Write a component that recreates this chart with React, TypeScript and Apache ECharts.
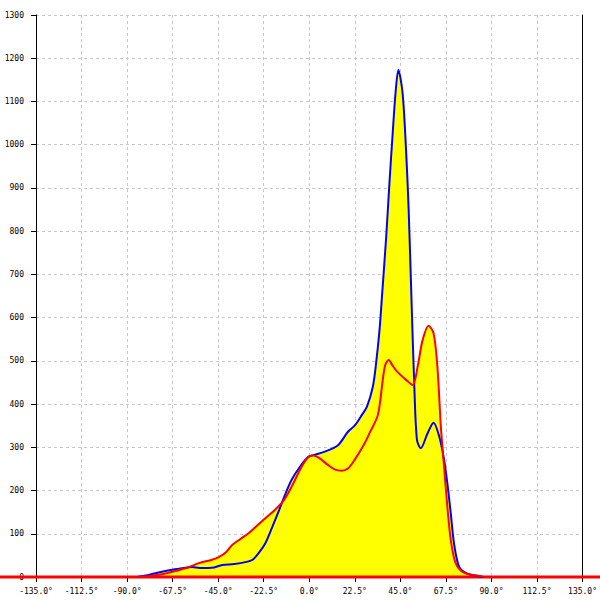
import React, { useEffect, useRef } from "react";
import * as echarts from "echarts";

const xTicks = [-135, -112.5, -90, -67.5, -45, -22.5, 0, 22.5, 45, 67.5, 90, 112.5, 135];

const blueAngles = [-85, -80, -75, -70, -67.5, -62, -58, -54, -50, -47, -43, -37, -31, -28, -25, -21.7, -18.5, -15.2, -12, -8.7, -4.6, -0.5, 2, 7.7, 14.2, 19.1, 22.4, 26, 28.5, 31.4, 33, 34.7, 36, 38, 39.6, 41.2, 42.6, 44, 46.1, 47.8, 49.1, 50.5, 51.9, 53.2, 55.1, 58.4, 61.4, 64.2, 66.6, 68.2, 69.9, 71.5, 74, 78, 84.6, 86];
const blueValues = [0, 4, 10, 15, 17, 21, 23, 21, 21, 22, 28, 30, 35, 40, 55, 78, 113, 151, 190, 225, 255, 278, 282, 290, 305, 336, 350, 375, 394, 440, 494, 571, 655, 787, 911, 1026, 1119, 1173, 1119, 988, 849, 641, 440, 317, 298, 332, 357, 325, 271, 217, 147, 78, 24, 8, 1, 0];

const redAngles = [-85, -80, -77.4, -72, -67.6, -60, -54.5, -48, -44.7, -41, -38.1, -34, -30, -26, -21.7, -17, -12.8, -8.7, -3.8, -0.5, 2, 5, 9, 12.5, 15.9, 19.1, 22.4, 27.3, 30, 33.9, 36.3, 37.5, 39.3, 41, 43.4, 47.8, 51.1, 53.5, 56, 58.9, 61.4, 63.3, 65, 66.6, 68.2, 69.9, 72.3, 76.4, 84.6, 86];
const redValues = [0, 2, 3, 7, 12, 22, 32, 40, 46, 58, 74, 88, 101, 118, 136, 155, 176, 209, 255, 277, 281, 275, 260, 249, 246, 251, 271, 309, 335, 375, 456, 490, 502, 490, 475, 456, 444, 486, 548, 581, 564, 486, 348, 255, 163, 86, 32, 10, 2, 0];

const pairs = (xs: number[], ys: number[]) => xs.map((x, i) => [x, ys[i]]);

export default function App() {
  const ref = useRef<HTMLDivElement>(null);
  useEffect(() => {
    if (!ref.current) return;
    const chart = echarts.init(ref.current, null, { renderer: "svg" });
    const font = "DejaVu Sans Mono";
    const smooth = 0.3;
    chart.setOption({
      animation: false,
      backgroundColor: "#fff",
      grid: { left: 36, right: 14, top: 15, bottom: 23, containLabel: false },
      xAxis: {
        type: "value",
        min: xTicks[0],
        max: xTicks[xTicks.length - 1],
        interval: 22.5,
        axisLine: { show: true, onZero: false, lineStyle: { color: "#000", width: 1 } },
        axisTick: { show: true, length: 5, lineStyle: { color: "#000" } },
        axisLabel: {
          color: "#000",
          fontFamily: font,
          fontSize: 8,
          margin: 10,
          formatter: (v: number) => v.toFixed(1) + "°",
        },
        splitLine: { show: true, lineStyle: { color: "#c8c8c8", type: [3, 3], width: 1 } },
      },
      yAxis: [
        {
          type: "value",
          min: 0,
          max: 1300,
          interval: 100,
          position: "left",
          axisLine: { show: true, onZero: false, lineStyle: { color: "#000", width: 1 } },
          axisTick: { show: true, length: 5, lineStyle: { color: "#000" } },
          axisLabel: {
            color: "#000",
            fontFamily: font,
            fontSize: 8,
            margin: 12,
            formatter: (v: number) => String(v),
          },
          splitLine: { show: true, lineStyle: { color: "#c8c8c8", type: [3, 3], width: 1 } },
        },
        {
          type: "value",
          min: 0,
          max: 1300,
          position: "right",
          axisLine: { show: true, onZero: false, lineStyle: { color: "#000", width: 1 } },
          axisTick: { show: false },
          axisLabel: { show: false },
          splitLine: { show: false },
        },
      ],
      series: [
        {
          type: "line",
          data: pairs(blueAngles, blueValues),
          smooth,
          showSymbol: false,
          lineStyle: { width: 0 },
          areaStyle: { color: "#ffff00", opacity: 1 },
          z: 2,
        },
        {
          type: "line",
          data: pairs(redAngles, redValues),
          smooth,
          showSymbol: false,
          lineStyle: { width: 0 },
          areaStyle: { color: "#ffff00", opacity: 1 },
          z: 2,
        },
        {
          type: "line",
          data: pairs(blueAngles, blueValues),
          smooth,
          showSymbol: false,
          lineStyle: { color: "#0000ff", width: 2 },
          z: 4,
        },
        {
          type: "line",
          data: pairs(redAngles, redValues),
          smooth,
          showSymbol: false,
          lineStyle: { color: "#ff0000", width: 2 },
          z: 5,
        },
      ],
    });
    const y0 = chart.convertToPixel({ yAxisIndex: 0 }, 0) as number;
    chart.setOption({
      graphic: [
        {
          type: "line",
          shape: { x1: 0, y1: y0, x2: 600, y2: y0 },
          style: { stroke: "#ff0000", lineWidth: 3 },
          z: 3,
        },
      ],
    });
    return () => chart.dispose();
  }, []);
  return (
    <div
      ref={ref}
      style={{ position: "absolute", left: 0, top: 0, width: 600, height: 600 }}
    />
  );
}
